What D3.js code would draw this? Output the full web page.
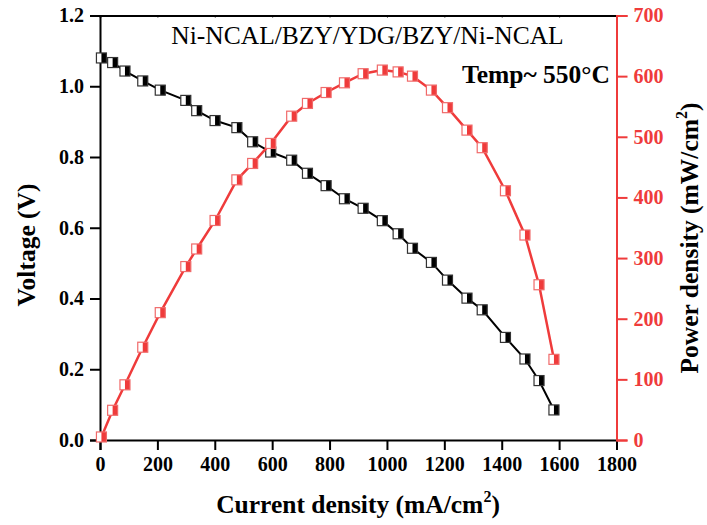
<!DOCTYPE html>
<html>
<head>
<meta charset="utf-8">
<script src="https://cdn.jsdelivr.net/npm/d3@7"></script>
<style>
  body { margin: 0; background: #fff; }
  svg text { font-family: "Liberation Serif", "Times New Roman", serif; }
</style>
</head>
<body>
<svg width="707" height="525"></svg>
<script>
var current = [5, 44, 87, 149, 210, 299, 337, 401, 477, 532, 595, 668, 723, 788, 852, 917, 984, 1039, 1089, 1155, 1211, 1279, 1332, 1413, 1481, 1530, 1582];
var voltage = [1.080, 1.067, 1.043, 1.015, 0.989, 0.960, 0.931, 0.903, 0.883, 0.843, 0.814, 0.791, 0.754, 0.719, 0.682, 0.655, 0.620, 0.583, 0.542, 0.502, 0.452, 0.401, 0.368, 0.290, 0.229, 0.168, 0.085];
var power = [5, 49, 91, 153, 210, 286, 315, 362, 429, 456, 489, 534, 555, 573, 589, 604, 610, 607, 600, 577, 548, 511, 482, 411, 338, 256, 133];

var xTicks = [0, 200, 400, 600, 800, 1000, 1200, 1400, 1600, 1800];
var vTicks = [0, 0.2, 0.4, 0.6, 0.8, 1.0, 1.2];
var pTicks = [0, 100, 200, 300, 400, 500, 600, 700];

var red = "#ef3b3b";

var svg = d3.select("svg"),
    margin = {top: 15.5, right: 90.5, bottom: 85, left: 100},
    width = +svg.attr("width") - margin.left - margin.right,
    height = +svg.attr("height") - margin.top - margin.bottom,
    g = svg.append("g").attr("transform", "translate(" + margin.left + "," + margin.top + ")");

var x = d3.scaleLinear().domain([0, 1800]).range([0, width]);
var yV = d3.scaleLinear().domain([0, 1.2]).range([height, 0]);
var yP = d3.scaleLinear().domain([0, 700]).range([height, 0]);

var rows = current.map(function(c, i) { return {i: c, v: voltage[i], p: power[i]}; });

// axes
var xAxis = g.append("g")
    .attr("transform", "translate(0," + height + ")")
    .call(d3.axisBottom(x).tickValues(xTicks).tickSize(10).tickPadding(7).tickFormat(d3.format("d")));
var topAxis = g.append("g")
    .call(d3.axisTop(x).tickValues(xTicks).tickSize(-2).tickFormat(""));
var leftAxis = g.append("g")
    .call(d3.axisLeft(yV).tickValues(vTicks).tickSize(10).tickPadding(6).tickFormat(d3.format(".1f")));
var rightAxis = g.append("g")
    .attr("transform", "translate(" + width + ",0)")
    .call(d3.axisRight(yP).tickValues(pTicks).tickSize(11).tickPadding(6).tickFormat(d3.format("d")));

[xAxis, topAxis, leftAxis, rightAxis].forEach(function(a) {
  a.select(".domain").attr("stroke-width", 2);
  a.selectAll(".tick line").attr("stroke-width", 2);
  a.selectAll("text").attr("font-size", 20).attr("font-weight", "bold")
    .attr("font-family", "'Liberation Serif', 'Times New Roman', serif").attr("fill", "#000");
});
topAxis.selectAll(".tick line").attr("stroke-width", 1);
rightAxis.select(".domain").attr("stroke", red);
rightAxis.selectAll(".tick line").attr("stroke", red);
rightAxis.selectAll("text").attr("fill", red);

// lines
var vLine = d3.line().x(function(d) { return x(d.i); }).y(function(d) { return yV(d.v); });
var pLine = d3.line().x(function(d) { return x(d.i); }).y(function(d) { return yP(d.p); });

function drawMarkers(yFn, color, border) {
  var s = 10;
  var m = g.append("g").selectAll("g")
    .data(rows)
    .enter().append("g")
      .attr("transform", function(d) { return "translate(" + x(d.i) + "," + yFn(d) + ")"; });
  m.append("rect")
      .attr("x", -s / 2).attr("y", -s / 2).attr("width", s).attr("height", s)
      .attr("fill", "#fff");
  m.append("rect")
      .attr("x", 0).attr("y", -s / 2).attr("width", s / 2).attr("height", s)
      .attr("fill", color);
  m.append("rect")
      .attr("x", -s / 2).attr("y", -s / 2).attr("width", s).attr("height", s)
      .attr("fill", "none").attr("stroke", border).attr("stroke-width", 1.2);
}

g.append("path").datum(rows)
    .attr("fill", "none").attr("stroke", "#000").attr("stroke-width", 2)
    .attr("d", vLine);
drawMarkers(function(d) { return yV(d.v); }, "#000", "#333");

g.append("path").datum(rows)
    .attr("fill", "none").attr("stroke", red).attr("stroke-width", 2.5)
    .attr("d", pLine);
drawMarkers(function(d) { return yP(d.p); }, red, "#f06a6a");

// annotations
svg.append("text")
    .attr("x", 367.5).attr("y", 44)
    .attr("text-anchor", "middle")
    .attr("font-size", 25.5)
    .text("Ni-NCAL/BZY/YDG/BZY/Ni-NCAL");
svg.append("text")
    .attr("x", 610).attr("y", 83)
    .attr("text-anchor", "end")
    .attr("font-size", 25.5).attr("font-weight", "bold")
    .text("Temp~ 550°C");

// axis titles
var xt = svg.append("text")
    .attr("x", 358).attr("y", 513)
    .attr("text-anchor", "middle")
    .attr("font-size", 25.5).attr("font-weight", "bold");
xt.append("tspan").text("Current density (mA/cm");
xt.append("tspan").attr("font-size", 16).attr("dy", -11).text("2");
xt.append("tspan").attr("dy", 11).text(")");

svg.append("text")
    .attr("transform", "translate(35,245) rotate(-90)")
    .attr("text-anchor", "middle")
    .attr("font-size", 25.5).attr("font-weight", "bold")
    .text("Voltage (V)");

var yt = svg.append("text")
    .attr("transform", "translate(698,238) rotate(-90)")
    .attr("text-anchor", "middle")
    .attr("font-size", 25.5).attr("font-weight", "bold");
yt.append("tspan").text("Power density (mW/cm");
yt.append("tspan").attr("font-size", 16).attr("dy", -11).text("2");
yt.append("tspan").attr("dy", 11).text(")");
</script>
</body>
</html>
